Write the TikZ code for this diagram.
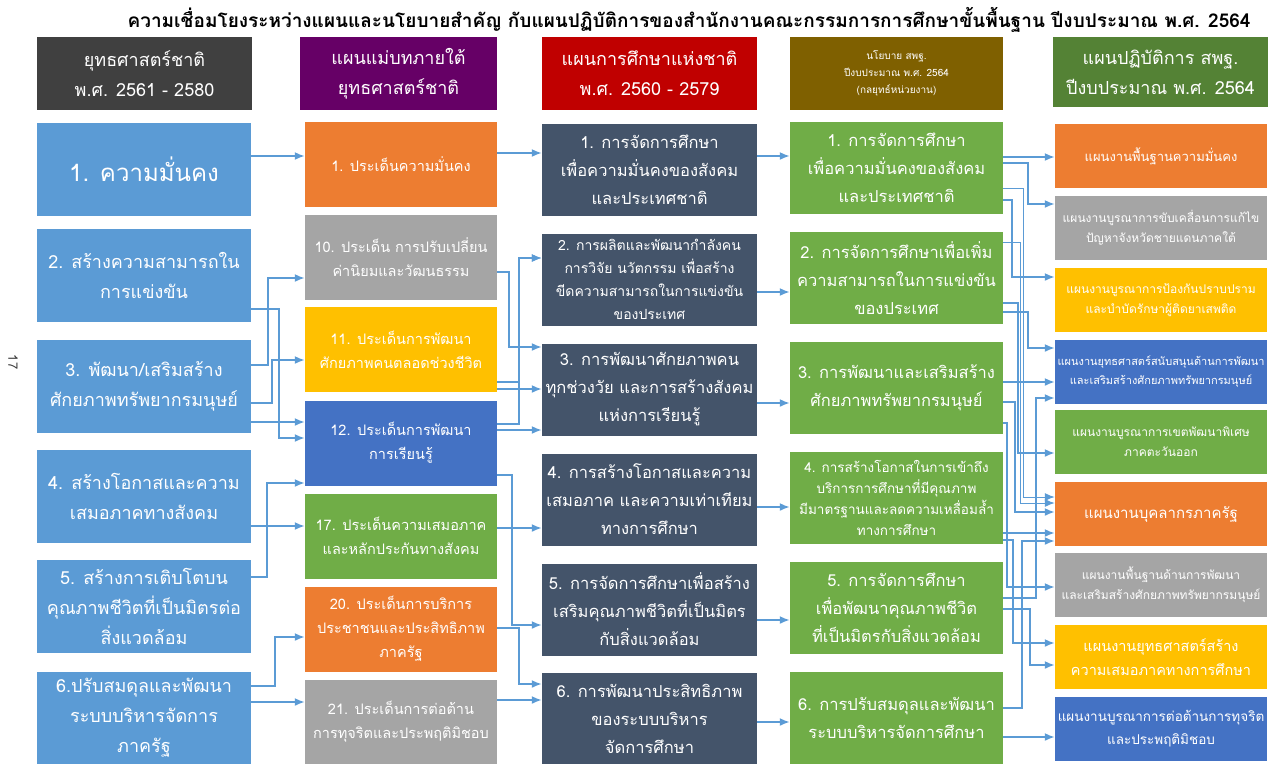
\documentclass[tikz,border=0pt]{standalone}
\usepackage{fontspec}
\setmainfont[Script=Thai]{Loma}
\usetikzlibrary{arrows.meta}

\definecolor{sblue}{HTML}{5B9BD5}
\definecolor{sorange}{HTML}{ED7D31}
\definecolor{sgray}{HTML}{A5A5A5}
\definecolor{syellow}{HTML}{FFC000}
\definecolor{sroyal}{HTML}{4472C4}
\definecolor{sgreen}{HTML}{70AD47}
\definecolor{sslate}{HTML}{44546A}
\definecolor{hdark}{HTML}{404040}
\definecolor{hpurple}{HTML}{660066}
\definecolor{hred}{HTML}{C00000}
\definecolor{holive}{HTML}{7F6000}
\definecolor{hgreen}{HTML}{548235}

\begin{document}
\begin{tikzpicture}[x=1pt, y=-1pt,
		box/.style={inner sep=0pt, align=center, text=white},
		head/.style={box, minimum height=73pt, font=\fontsize{18}{30}\selectfont},
		cola/.style={box, fill=sblue, minimum width=214pt, minimum height=93pt, font=\fontsize{18}{30}\selectfont},
		colb/.style={box, minimum width=192pt, minimum height=85pt, font=\fontsize{14.5}{24}\selectfont},
		colc/.style={box, fill=sslate, minimum width=215pt, minimum height=92pt, font=\fontsize{16.5}{28}\selectfont},
		cold/.style={box, fill=sgreen, minimum width=213pt, minimum height=92pt, font=\fontsize{16.5}{28}\selectfont},
		cole/.style={box, minimum width=212pt, minimum height=64pt, font=\fontsize{12}{20}\selectfont},
		link/.style={draw=sblue, line width=1.8pt, arrows={-Latex[length=10pt,width=8pt]}},
		thin/.style={link, line width=1pt}]

		\useasboundingbox (0,0) rectangle (1273,764);

		\node[font=\bfseries\fontsize{19}{19}\selectfont] (TT) at (689,20) {ความเชื่อมโยงระหว่างแผนและนโยบายสำคัญ กับแผนปฏิบัติการของสำนักงานคณะกรรมการการศึกษาขั้นพื้นฐาน ปีงบประมาณ พ.ศ. 2564};
		\node[rotate=-90, text=hdark, font=\fontsize{13}{13}\selectfont] (PG) at (13,362) {17};

		\node[head, fill=hdark, minimum width=215pt] (HA) at (144.5,73.5) {ยุทธศาสตร์ชาติ\\พ.ศ. 2561 - 2580};
		\node[head, fill=hpurple, minimum width=197pt] (HB) at (398.5,73.5) {แผนแม่บทภายใต้\\ยุทธศาสตร์ชาติ};
		\node[head, fill=hred, minimum width=215pt] (HC) at (649.5,73.5) {แผนการศึกษาแห่งชาติ\\พ.ศ. 2560 - 2579};
		\node[head, fill=holive, minimum width=213pt, font=\fontsize{10}{17}\selectfont] (HD) at (896.5,73.5) {นโยบาย สพฐ.\\ปีงบประมาณ พ.ศ. 2564\\(กลยุทธ์หน่วยงาน)};
		\node[head, fill=hgreen, minimum width=215pt, minimum height=70pt] (HE) at (1160.5,72) {แผนปฏิบัติการ สพฐ.\\ปีงบประมาณ พ.ศ. 2564};

		\node[cola, font=\fontsize{24}{30}\selectfont] (AA) at (144,169) {1. ความมั่นคง};
		\node[cola] (AB) at (144,275.5) {2. สร้างความสามารถใน\\การแข่งขัน};
		\node[cola] (AC) at (144,386.5) {3. พัฒนา/เสริมสร้าง\\ศักยภาพทรัพยากรมนุษย์};
		\node[cola] (AD) at (144,496.5) {4. สร้างโอกาสและความ\\เสมอภาคทางสังคม};
		\node[cola] (AE) at (144,606.5) {5. สร้างการเติบโตบน\\คุณภาพชีวิตที่เป็นมิตรต่อ\\สิ่งแวดล้อม};
		\node[cola, minimum height=92pt] (AF) at (144,718) {6.ปรับสมดุลและพัฒนา\\ระบบบริหารจัดการ\\ภาครัฐ};

		\node[colb, fill=sorange] (BA) at (401,164.5) {1. ประเด็นความมั่นคง};
		\node[colb, fill=sgray] (BB) at (401,257) {10. ประเด็น การปรับเปลี่ยน\\ค่านิยมและวัฒนธรรม};
		\node[colb, fill=syellow] (BC) at (401,349.5) {11. ประเด็นการพัฒนา\\ศักยภาพคนตลอดช่วงชีวิต};
		\node[colb, fill=sroyal] (BD) at (401,443) {12. ประเด็นการพัฒนา\\การเรียนรู้};
		\node[colb, fill=sgreen] (BE) at (401,536) {17. ประเด็นความเสมอภาค\\และหลักประกันทางสังคม};
		\node[colb, fill=sorange] (BF) at (401,629) {20. ประเด็นการบริการ\\ประชาชนและประสิทธิภาพ\\ภาครัฐ};
		\node[colb, fill=sgray, minimum height=84pt] (BG) at (401,722) {21. ประเด็นการต่อต้าน\\การทุจริตและประพฤติมิชอบ};

		\node[colc] (CA) at (649.5,169.5) {1. การจัดการศึกษา\\เพื่อความมั่นคงของสังคม\\และประเทศชาติ};
		\node[colc, font=\fontsize{14}{23}\selectfont] (CB) at (649.5,279.5) {2. การผลิตและพัฒนากำลังคน\\การวิจัย นวัตกรรม เพื่อสร้าง\\ขีดความสามารถในการแข่งขัน\\ของประเทศ};
		\node[colc] (CC) at (649.5,389.5) {3. การพัฒนาศักยภาพคน\\ทุกช่วงวัย และการสร้างสังคม\\แห่งการเรียนรู้};
		\node[colc] (CD) at (649.5,499.5) {4. การสร้างโอกาสและความ\\เสมอภาค และความเท่าเทียม\\ทางการศึกษา};
		\node[colc] (CE) at (649.5,609.5) {5. การจัดการศึกษาเพื่อสร้าง\\เสริมคุณภาพชีวิตที่เป็นมิตร\\กับสิ่งแวดล้อม};
		\node[colc, minimum height=91pt] (CF) at (649.5,718.5) {6. การพัฒนาประสิทธิภาพ\\ของระบบบริหาร\\จัดการศึกษา};

		\node[cold] (DA) at (896.5,168) {1. การจัดการศึกษา\\เพื่อความมั่นคงของสังคม\\และประเทศชาติ};
		\node[cold] (DB) at (896.5,278) {2. การจัดการศึกษาเพื่อเพิ่ม\\ความสามารถในการแข่งขัน\\ของประเทศ};
		\node[cold] (DC) at (896.5,388) {3. การพัฒนาและเสริมสร้าง\\ศักยภาพทรัพยากรมนุษย์};
		\node[cold, font=\fontsize{13.5}{21}\selectfont] (DD) at (896.5,497.5) {4. การสร้างโอกาสในการเข้าถึง\\บริการการศึกษาที่มีคุณภาพ\\มีมาตรฐานและลดความเหลื่อมล้ำ\\ทางการศึกษา};
		\node[cold] (DE) at (896.5,608) {5. การจัดการศึกษา\\เพื่อพัฒนาคุณภาพชีวิต\\ที่เป็นมิตรกับสิ่งแวดล้อม};
		\node[cold] (DF) at (896.5,718) {6. การปรับสมดุลและพัฒนา\\ระบบบริหารจัดการศึกษา};

		\node[cole, fill=sorange, font=\fontsize{13}{20}\selectfont] (EA) at (1161,156) {แผนงานพื้นฐานความมั่นคง};
		\node[cole, fill=sgray] (EB) at (1161,228) {แผนงานบูรณาการขับเคลื่อนการแก้ไข\\ปัญหาจังหวัดชายแดนภาคใต้};
		\node[cole, fill=syellow] (EC) at (1161,300) {แผนงานบูรณาการป้องกันปราบปราม\\และบำบัดรักษาผู้ติดยาเสพติด};
		\node[cole, fill=sroyal, font=\fontsize{11}{19}\selectfont] (ED) at (1161,371.5) {แผนงานยุทธศาสตร์สนับสนุนด้านการพัฒนา\\และเสริมสร้างศักยภาพทรัพยากรมนุษย์};
		\node[cole, fill=sgreen] (EE) at (1161,442) {แผนงานบูรณาการเขตพัฒนาพิเศษ\\ภาคตะวันออก};
		\node[cole, fill=sorange, font=\fontsize{15}{20}\selectfont] (EF) at (1161,514) {แผนงานบุคลากรภาครัฐ};
		\node[cole, fill=sgray] (EG) at (1161,585) {แผนงานพื้นฐานด้านการพัฒนา\\และเสริมสร้างศักยภาพทรัพยากรมนุษย์};
		\node[cole, fill=syellow, font=\fontsize{14.5}{24}\selectfont] (EH) at (1161,657) {แผนงานยุทธศาสตร์สร้าง\\ความเสมอภาคทางการศึกษา};
		\node[cole, fill=sroyal, font=\fontsize{13.5}{23}\selectfont] (EI) at (1161,729) {แผนงานบูรณาการต่อต้านการทุจริต\\และประพฤติมิชอบ};

		\draw [link] ([yshift=13pt]AA.east) -- ([yshift=8.5pt]BA.west);
		\draw [link] ([yshift=-33.5pt]AB.east) -- ++(28,0) |- ([yshift=5pt]BD.west);
		\draw [link] ([yshift=21.5pt]AC.east) -- ++(17,0) |- ([yshift=-21pt]BB.west);
		\draw [link] ([yshift=-16.5pt]AC.east) -- ++(21,0) |- ([yshift=-10.5pt]BC.west);
		\draw [link] ([yshift=-35.5pt]AC.east) -- ([yshift=21pt]BD.west);
		\draw [link] ([yshift=-29.5pt]AD.east) -- ([yshift=10pt]BE.west);
		\draw [link] ([yshift=29.5pt]AE.east) -- ++(16,0) |- ([yshift=-40pt]BD.west);
		\draw [link] ([yshift=32pt]AF.east) -- ++(24,0) |- ([yshift=-8pt]BF.west);
		\draw [link] ([yshift=16pt]AF.east) -- ([yshift=20pt]BG.west);

		\draw [link] ([yshift=11.5pt]BA.east) -- ([yshift=16.5pt]CA.west);
		\draw [link] ([yshift=-15pt]BB.east) -- ++(12,0) |- ([yshift=42.5pt]CC.west);
		\draw [link] ([yshift=-32.5pt]BC.east) -- ++(22,0) |- ([yshift=21.5pt]CB.west);
		\draw [link] ([yshift=-39.5pt]BC.east) -- ([yshift=0.5pt]CC.west);
		\draw [link] ([yshift=19pt]BD.east) -- ++(22,0) |- ([yshift=21.5pt]CB.west);
		\draw [link] ([yshift=13pt]BD.east) -- ([yshift=-40.5pt]CC.west);
		\draw [link] ([yshift=-32pt]BD.east) -- ++(15,0) |- ([yshift=-15.5pt]CE.west);
		\draw [link] ([yshift=8pt]BE.east) -- ([yshift=-28.5pt]CD.west);
		\draw [link] ([yshift=1pt]BF.east) -- ++(22,0) |- ([yshift=34.5pt]CF.west);
		\draw [link] ([yshift=22pt]BG.east) -- ([yshift=18.5pt]CF.west);

		\draw [link] ([yshift=13.5pt]CA.east) -- ([yshift=12pt]DA.west);
		\draw [link] ([yshift=-12.5pt]CB.east) -- ([yshift=-14pt]DB.west);
		\draw [link] ([yshift=-13.5pt]CC.east) -- ([yshift=-15pt]DC.west);
		\draw [link] ([yshift=-7.5pt]CD.east) -- ([yshift=-9.5pt]DD.west);
		\draw [link] ([yshift=-10.5pt]CE.east) -- ([yshift=-12pt]DE.west);
		\draw [link] ([yshift=-3.5pt]CF.east) -- ([yshift=-4pt]DF.west);

		\draw [link] ([yshift=11pt]DA.east) -- ([yshift=-1pt]EA.west);
		\draw [link] ([yshift=5pt]DA.east) -- ++(25,0) |- ([yshift=24pt]EB.west);
		\draw [thin] ([yshift=-20pt]DA.east) -- ++(20,0) |- ([yshift=17pt]EF.west);
		\draw [link] ([yshift=-32pt]DA.east) -- ++(9,0) |- ([yshift=23pt]EC.west);
		\draw [thin] ([yshift=36pt]DB.east) -- ++(17,0) |- ([yshift=11pt]EF.west);
		\draw [link] ([yshift=-25pt]DB.east) -- ++(15,0) |- ([yshift=-11pt]EE.west);
		\draw [link] ([yshift=-34pt]DB.east) -- ++(25,0) |- ([yshift=23.5pt]ED.west);
		\draw [link] ([yshift=6pt]DC.east) -- ([yshift=-10.5pt]ED.west);
		\draw [link] ([yshift=-14pt]DC.east) -- ++(12,0) |- ([yshift=2pt]EF.west);
		\draw [link] ([yshift=-35pt]DC.east) -- ++(4,0) |- ([yshift=-2pt]EG.west);
		\draw [link] ([yshift=-35.5pt]DD.east) -- ([yshift=-19pt]EF.west);
		\draw [link] ([yshift=-42.5pt]DD.east) -- ++(10,0) |- ([yshift=14pt]EH.west);
		\draw [link] ([yshift=10pt]DE.east) -- ++(33,0) |- ([yshift=-26.5pt]ED.west);
		\draw [link] ([yshift=-1pt]DE.east) -- ++(27,0) |- ([yshift=-8pt]EH.west);
		\draw [link] ([yshift=10pt]DF.east) -- ++(19,0) |- ([yshift=-27pt]EF.west);
		\draw [link] ([yshift=-19pt]DF.east) -- ([yshift=-8pt]EI.west);
	\end{tikzpicture}
\end{document}
